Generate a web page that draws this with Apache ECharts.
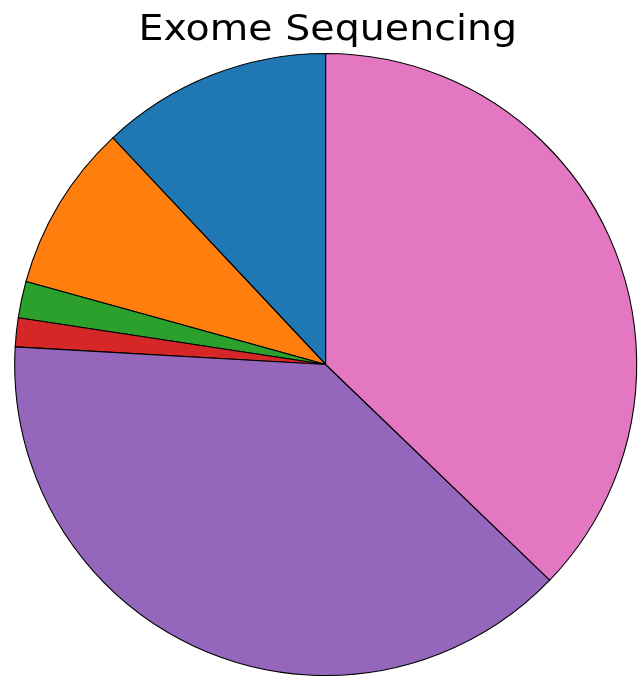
<!DOCTYPE html>
<html>
<head>
<meta charset="utf-8">
<script src="https://cdn.jsdelivr.net/npm/echarts@6/dist/echarts.min.js"></script>
<style>html,body{margin:0;padding:0;background:#fff}#c{width:644px;height:678px}</style>
</head>
<body>
<div id="c"></div>
<script>
const categories = ['A', 'B', 'C', 'D', 'E', 'F'];
const values = [12.0, 8.7, 1.9, 1.5, 38.7, 37.2];
const colors = ['#1f77b4', '#ff7f0e', '#2ca02c', '#d62728', '#9467bd', '#e377c2'];
const titleText = 'Exome Sequencing';

const chart = echarts.init(document.getElementById('c'), null, {renderer: 'canvas'});
chart.setOption({
  animation: false,
  backgroundColor: '#ffffff',
  graphic: [{
    type: 'text',
    x: 327.8,
    y: 31,
    scaleX: 1.13,
    scaleY: 1.03,
    style: {
      text: titleText,
      fontFamily: 'DejaVu Sans',
      fontSize: 35,
      fill: '#000',
      textAlign: 'center',
      textVerticalAlign: 'middle'
    }
  }],
  series: [{
    type: 'pie',
    center: [325.7, 364.5],
    radius: 311,
    startAngle: 90,
    clockwise: false,
    label: {show: false},
    labelLine: {show: false},
    emphasis: {disabled: true},
    itemStyle: {borderColor: '#000', borderWidth: 1.1},
    data: categories.map((c, i) => ({name: c, value: values[i], itemStyle: {color: colors[i]}}))
  }]
});
</script>
</body>
</html>
